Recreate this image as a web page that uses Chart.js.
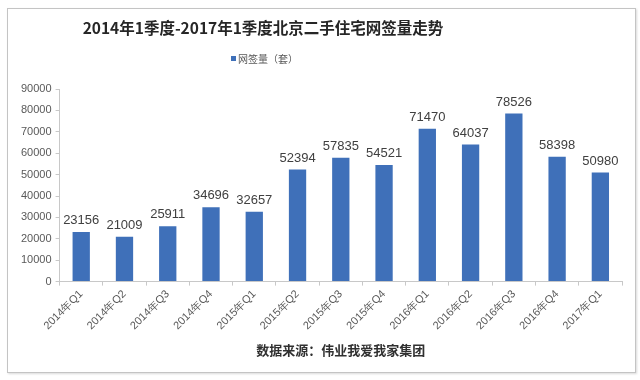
<!DOCTYPE html>
<html>
<head>
<meta charset="utf-8">
<script src="https://cdn.jsdelivr.net/npm/chart.js@4"></script>
<style>
  html, body { margin: 0; padding: 0; background: #fff; }
  #wrap { position: relative; width: 640px; height: 380px; }
  #frame { position: absolute; left: 7px; top: 8px; width: 627px; height: 363px;
           border: 1px solid #c4c4c4; box-shadow: 1px 1px 2px rgba(0,0,0,0.15); }
  canvas { position: absolute; left: 0; top: 0; }
</style>
</head>
<body>
<div id="wrap">
  <div id="frame"></div>
  <canvas id="signChart" width="640" height="380"></canvas>
</div>
<script>
// Quarterly second-hand housing contract signings, Beijing
const quarters = ['2014年Q1', '2014年Q2', '2014年Q3', '2014年Q4', '2015年Q1', '2015年Q2', '2015年Q3',
  '2015年Q4', '2016年Q1', '2016年Q2', '2016年Q3', '2016年Q4', '2017年Q1'];
const signings = [23156, 21009, 25911, 34696, 32657, 52394, 57835, 54521, 71470, 64037, 78526, 58398, 50980];
const seriesName = '网签量（套）';
const chartTitle = '2014年1季度-2017年1季度北京二手住宅网签量走势';
const sourceNote = '数据来源：伟业我爱我家集团';
const yMax = 90000;
const yStep = 10000;

const barColor = '#3f70b9';
const axisColor = '#c8c8c8';
const tickColor = '#595959';

// value labels above each bar
const valueLabels = {
  id: 'valueLabels',
  afterDatasetsDraw(chart) {
    const ctx = chart.ctx;
    const meta = chart.getDatasetMeta(0);
    ctx.save();
    ctx.font = '13px "Liberation Sans", Arial, sans-serif';
    ctx.fillStyle = '#404040';
    ctx.textAlign = 'center';
    ctx.textBaseline = 'bottom';
    meta.data.forEach((bar, i) => {
      ctx.fillText(chart.data.datasets[0].data[i], bar.x, bar.y - 5);
    });
    ctx.restore();
  }
};

// title and legend sit left of centre in the original
const header = {
  id: 'header',
  afterDraw(chart) {
    const ctx = chart.ctx;
    ctx.save();
    ctx.fillStyle = '#262626';
    ctx.font = 'bold 15.5px "Noto Sans CJK SC", sans-serif';
    ctx.textAlign = 'center';
    ctx.textBaseline = 'middle';
    ctx.fillText(chartTitle, 263, 28);

    ctx.fillStyle = barColor;
    ctx.fillRect(231, 56, 5, 5);
    ctx.fillStyle = '#595959';
    ctx.font = '10px "Noto Sans CJK SC", sans-serif';
    ctx.textAlign = 'left';
    ctx.fillText(chart.data.datasets[0].label, 238, 59);
    ctx.restore();
  }
};

new Chart(document.getElementById('signChart'), {
  type: 'bar',
  data: {
    labels: quarters,
    datasets: [{
      label: seriesName,
      data: signings,
      backgroundColor: barColor,
      barPercentage: 0.4,
      categoryPercentage: 1.0
    }]
  },
  options: {
    responsive: false,
    animation: false,
    layout: { padding: { top: 89, left: 17, right: 18, bottom: 22 } },
    scales: {
      x: {
        grid: { display: true, drawOnChartArea: false, color: axisColor, tickLength: 4 },
        border: { color: axisColor },
        ticks: {
          color: tickColor,
          font: { size: 11, family: '"Liberation Sans", Arial, sans-serif' },
          minRotation: 45,
          maxRotation: 45,
          padding: 2
        }
      },
      y: {
        min: 0,
        max: yMax,
        grid: { display: true, drawOnChartArea: false, color: axisColor, tickLength: 4 },
        border: { color: axisColor },
        ticks: {
          stepSize: yStep,
          color: tickColor,
          padding: 4,
          font: { size: 11, family: '"Liberation Sans", Arial, sans-serif' },
          callback: (v) => String(v)
        }
      }
    },
    plugins: {
      legend: { display: false },
      tooltip: { enabled: false },
      title: { display: false },
      subtitle: {
        display: true,
        position: 'bottom',
        fullSize: false,
        text: sourceNote,
        color: '#303030',
        font: { size: 13, weight: 'bold', family: '"Noto Sans CJK SC", sans-serif' },
        padding: { top: 8, bottom: 0 }
      }
    }
  },
  plugins: [valueLabels, header]
});
</script>
</body>
</html>
